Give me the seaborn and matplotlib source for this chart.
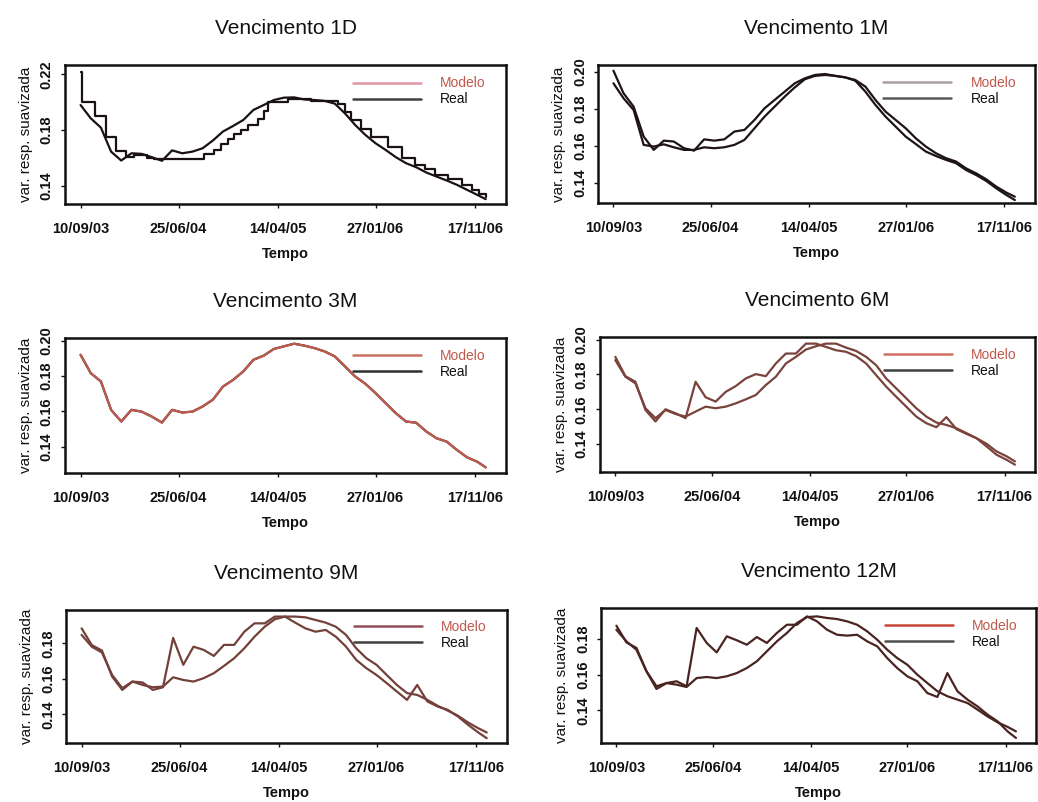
import matplotlib
matplotlib.use("Agg")
import matplotlib.pyplot as plt
import matplotlib.dates as mdates
from matplotlib.lines import Line2D
import numpy as np
import pandas as pd
import seaborn as sns

# ---------------------------------------------------------------------------
# Data: smoothed implied variance, model vs. market, by maturity
# x values are calendar-day offsets from 10/09/2003
# ---------------------------------------------------------------------------
start_date = "2003-09-10"
days = [0, 30, 60, 90, 120, 150, 180, 210, 240, 270, 300, 330, 360, 390, 420,
        450, 480, 510, 540, 570, 600, 630, 660, 690, 720, 750, 780, 810, 840,
        870, 900, 930, 960, 990, 1020, 1050, 1080, 1110, 1140, 1170, 1195]

tick_dates = ["2003-09-10", "2004-06-25", "2005-04-14", "2006-01-27", "2006-11-17"]

# 1D: the market series moves in steps
real_1d_days = [0, 5, 44, 74, 104, 133, 158, 197, 217, 365, 394, 414, 434, 454,
                473, 493, 523, 542, 552, 611, 680, 759, 779, 799, 828, 858, 907,
                947, 986, 1016, 1045, 1085, 1124, 1154, 1174, 1195]
real_1d = [0.222, 0.200, 0.190, 0.175, 0.165, 0.161, 0.162, 0.160, 0.159, 0.163,
           0.166, 0.170, 0.174, 0.177, 0.180, 0.184, 0.188, 0.194, 0.200, 0.202,
           0.201, 0.199, 0.193, 0.187, 0.181, 0.175, 0.168, 0.160, 0.155, 0.152,
           0.148, 0.145, 0.141, 0.137, 0.134, 0.132]
model_1d = [0.198, 0.1885, 0.1818, 0.1646, 0.1582, 0.1634, 0.163, 0.1606, 0.158,
            0.1655, 0.1634, 0.1646, 0.167, 0.1725, 0.179, 0.183, 0.1873, 0.1945,
            0.198, 0.2016, 0.2033, 0.2035, 0.202, 0.2016, 0.201, 0.199, 0.192,
            0.1837, 0.1766, 0.1706, 0.1658, 0.1606, 0.1563, 0.1534, 0.1496,
            0.1467, 0.1439, 0.1408, 0.1372, 0.1336, 0.1305]

model_1m = [0.2005, 0.1883, 0.1811, 0.1649, 0.1577, 0.1627, 0.1622, 0.1586,
            0.1573, 0.1634, 0.1627, 0.1634, 0.1676, 0.1685, 0.1739, 0.1802,
            0.1847, 0.1892, 0.1937, 0.1964, 0.1982, 0.1987, 0.1977, 0.1969,
            0.1955, 0.1919, 0.1847, 0.1784, 0.1739, 0.1694, 0.164, 0.1595,
            0.1559, 0.1532, 0.1514, 0.1477, 0.145, 0.1418, 0.1378, 0.1346, 0.1324]
real_1m = [0.1937, 0.1856, 0.1793, 0.1604, 0.1595, 0.1607, 0.1591, 0.1577,
           0.1577, 0.1591, 0.1586, 0.1591, 0.1604, 0.1631, 0.1694, 0.1757,
           0.1811, 0.1865, 0.1915, 0.1959, 0.1977, 0.1982, 0.1977, 0.1969,
           0.1951, 0.1892, 0.182, 0.1757, 0.1703, 0.1649, 0.1609, 0.1568,
           0.1544, 0.1523, 0.1505, 0.1468, 0.1441, 0.1409, 0.1369, 0.1333, 0.1306]

model_3m = [0.192, 0.1816, 0.1769, 0.1608, 0.1542, 0.1608, 0.1598, 0.157,
            0.1536, 0.1608, 0.1593, 0.1598, 0.1627, 0.1665, 0.174, 0.1778,
            0.1826, 0.1892, 0.1915, 0.1953, 0.1968, 0.1983, 0.1972, 0.1958,
            0.1939, 0.1911, 0.1854, 0.1797, 0.1756, 0.1703, 0.1646, 0.1589,
            0.1542, 0.1535, 0.1485, 0.1447, 0.1428, 0.1381, 0.1339, 0.1314, 0.1282]
# at 3M the model reproduces the market curve
real_3m = list(model_3m)

model_6m = [0.1882, 0.1787, 0.1749, 0.1606, 0.1549, 0.1596, 0.1573, 0.1558,
            0.1587, 0.1615, 0.1606, 0.1615, 0.1634, 0.1657, 0.1682, 0.1739,
            0.1787, 0.1863, 0.1901, 0.1943, 0.1962, 0.1977, 0.1977, 0.1954,
            0.1935, 0.1901, 0.1853, 0.1777, 0.172, 0.1663, 0.1606, 0.1558,
            0.1524, 0.151, 0.1491, 0.1463, 0.1434, 0.1402, 0.1358, 0.133, 0.1301]
real_6m = [0.1901, 0.179, 0.1758, 0.1596, 0.153, 0.16, 0.1577, 0.1549, 0.1758,
           0.1669, 0.1644, 0.170, 0.1733, 0.1777, 0.1802, 0.179, 0.1863, 0.192,
           0.192, 0.1977, 0.1977, 0.1958, 0.1939, 0.193, 0.1905, 0.1863, 0.1796,
           0.173, 0.1672, 0.1615, 0.1558, 0.152, 0.1497, 0.1555, 0.1486, 0.1459,
           0.1434, 0.1387, 0.1339, 0.131, 0.1282]

model_9m = [0.1847, 0.1781, 0.1748, 0.1622, 0.1548, 0.1585, 0.1566, 0.1553,
            0.1557, 0.1609, 0.1594, 0.1585, 0.1604, 0.1632, 0.1673, 0.1716,
            0.1772, 0.1837, 0.1893, 0.1935, 0.195, 0.195, 0.1946, 0.1931,
            0.1916, 0.1893, 0.1847, 0.1772, 0.1716, 0.1679, 0.1622, 0.1566,
            0.152, 0.151, 0.1482, 0.1449, 0.1422, 0.1393, 0.1355, 0.1323, 0.1299]
real_9m = [0.1884, 0.179, 0.1759, 0.1613, 0.1538, 0.1585, 0.158, 0.1538, 0.1553,
           0.183, 0.1679, 0.1781, 0.1763, 0.1729, 0.1791, 0.1791, 0.1865, 0.1912,
           0.1912, 0.195, 0.195, 0.1916, 0.1884, 0.1865, 0.1875, 0.1837, 0.1781,
           0.1707, 0.166, 0.1622, 0.1576, 0.1529, 0.1482, 0.1566, 0.1473, 0.1445,
           0.1426, 0.1389, 0.1342, 0.1299, 0.1267]

model_12m = [0.1852, 0.1787, 0.174, 0.1619, 0.1535, 0.1553, 0.1544, 0.1531,
             0.1581, 0.1587, 0.1581, 0.1591, 0.1609, 0.1637, 0.1675, 0.1731,
             0.1787, 0.1834, 0.189, 0.1923, 0.1927, 0.1918, 0.1912, 0.1899,
             0.188, 0.1843, 0.1796, 0.174, 0.1693, 0.1656, 0.16, 0.1553,
             0.1507, 0.1479, 0.146, 0.1441, 0.1404, 0.1366, 0.1333, 0.1307, 0.1282]
real_12m = [0.1875, 0.1781, 0.175, 0.1619, 0.152, 0.1553, 0.1563, 0.1535, 0.1862,
            0.1778, 0.1725, 0.1815, 0.1793, 0.1768, 0.1811, 0.1778, 0.1834, 0.188,
            0.188, 0.1927, 0.1899, 0.1852, 0.1824, 0.1819, 0.1824, 0.1787, 0.1759,
            0.1693, 0.1637, 0.1591, 0.1563, 0.1497, 0.1475, 0.1609, 0.1507, 0.146,
            0.1422, 0.1376, 0.1338, 0.1282, 0.1245]

maturities = ["1D", "1M", "3M", "6M", "9M", "12M"]

# ---------------------------------------------------------------------------
# Styling
# ---------------------------------------------------------------------------
sns.set_theme(style="ticks")
plt.rcParams["font.family"] = ["Liberation Sans", "DejaVu Sans"]
plt.rcParams["axes.linewidth"] = 1.8
plt.rcParams["axes.edgecolor"] = "#111111"

base = pd.Timestamp(start_date)


def to_dates(offsets):
    return base + pd.to_timedelta(np.asarray(offsets), unit="D")


panels = [
    dict(model=model_1d, real=real_1d, real_days=real_1d_days, step=True,
         mc="#1a1212", rc="#1a1212", lmc="#e295a3", lrc="#404040",
         ylim=(0.127, 0.2267), yticks=[0.14, 0.18, 0.22],
         rect=[0.0626, 0.7456, 0.4249, 0.1733]),
    dict(model=model_1m, real=real_1m, real_days=days, step=False,
         mc="#1e1414", rc="#1e1414", lmc="#aaa0a0", lrc="#5a5a5a",
         ylim=(0.129, 0.2036), yticks=[0.14, 0.16, 0.18, 0.20],
         rect=[0.5761, 0.7469, 0.4210, 0.1721]),
    dict(model=model_3m, real=real_3m, real_days=days, step=False,
         mc="#c25a4e", rc="#1a1a1a", lmc="#c87062", lrc="#303030",
         ylim=(0.125, 0.2015), yticks=[0.14, 0.16, 0.18, 0.20],
         rect=[0.0626, 0.4102, 0.4249, 0.1683]),
    dict(model=model_6m, real=real_6m, real_days=days, step=False,
         mc="#7a433c", rc="#7a433c", lmc="#d07060", lrc="#404040",
         ylim=(0.124, 0.2015), yticks=[0.14, 0.16, 0.18, 0.20],
         rect=[0.578, 0.4115, 0.4191, 0.1683]),
    dict(model=model_9m, real=real_9m, real_days=days, step=False,
         mc="#73403a", rc="#73403a", lmc="#905058", lrc="#404040",
         ylim=(0.124, 0.1987), yticks=[0.14, 0.16, 0.18],
         rect=[0.0636, 0.0736, 0.4249, 0.1658]),
    dict(model=model_12m, real=real_12m, real_days=days, step=False,
         mc="#4a2420", rc="#4a2420", lmc="#c8453a", lrc="#505050",
         ylim=(0.1217, 0.1974), yticks=[0.14, 0.16, 0.18],
         rect=[0.579, 0.0736, 0.4191, 0.1683]),
]

fig = plt.figure(figsize=(10.38, 8.02), dpi=100)
fig.patch.set_facecolor("white")

for mat, p in zip(maturities, panels):
    ax = fig.add_axes(p["rect"])
    ax.set_facecolor("white")

    real_kw = dict(drawstyle="steps-post") if p["step"] else {}
    sns.lineplot(x=to_dates(p["real_days"]), y=p["real"], ax=ax, color=p["rc"],
                 lw=1.6, estimator=None, legend=False, **real_kw)
    sns.lineplot(x=to_dates(days), y=p["model"], ax=ax, color=p["mc"],
                 lw=1.6, estimator=None, legend=False)

    ax.set_xlim(base - pd.Timedelta(days=46), base + pd.Timedelta(days=1255))
    ax.set_ylim(*p["ylim"])
    ax.set_xticks(pd.to_datetime(tick_dates))
    ax.xaxis.set_major_formatter(mdates.DateFormatter("%d/%m/%y"))
    ax.set_yticks(p["yticks"])
    ax.set_yticklabels([f"{v:.2f}" for v in p["yticks"]])

    ax.tick_params(axis="both", direction="out", length=3, width=1,
                   colors="#111111", labelsize=10.5)
    ax.tick_params(axis="x", pad=10)
    ax.tick_params(axis="y", pad=5, labelrotation=90)
    for lab in ax.get_yticklabels():
        lab.set_va("center")
        lab.set_fontweight("bold")
    for lab in ax.get_xticklabels():
        lab.set_fontweight("bold")

    for side in ["top", "right", "bottom", "left"]:
        ax.spines[side].set_visible(True)
        ax.spines[side].set_linewidth(1.8)

    ax.set_title(f"Vencimento {mat}", fontsize=15, pad=22, color="#111111")
    ax.set_xlabel("Tempo", fontsize=10.5, fontweight="bold", labelpad=8,
                  color="#111111")
    ax.set_ylabel("var. resp. suavizada", fontsize=11, labelpad=5,
                  color="#111111")

    handles = [Line2D([], [], color=p["lmc"], lw=1.8),
               Line2D([], [], color=p["lrc"], lw=1.8)]
    leg = ax.legend(handles, ["Modelo", "Real"], loc="center left",
                    bbox_to_anchor=(0.652, 0.81), frameon=False,
                    handlelength=4.9, handletextpad=1.4, labelspacing=0.15,
                    borderpad=0, borderaxespad=0, fontsize=10)
    leg.get_texts()[0].set_color("#c0584c")
    leg.get_texts()[1].set_color("#111111")

fig.savefig("out.png", dpi=100, facecolor="white")
